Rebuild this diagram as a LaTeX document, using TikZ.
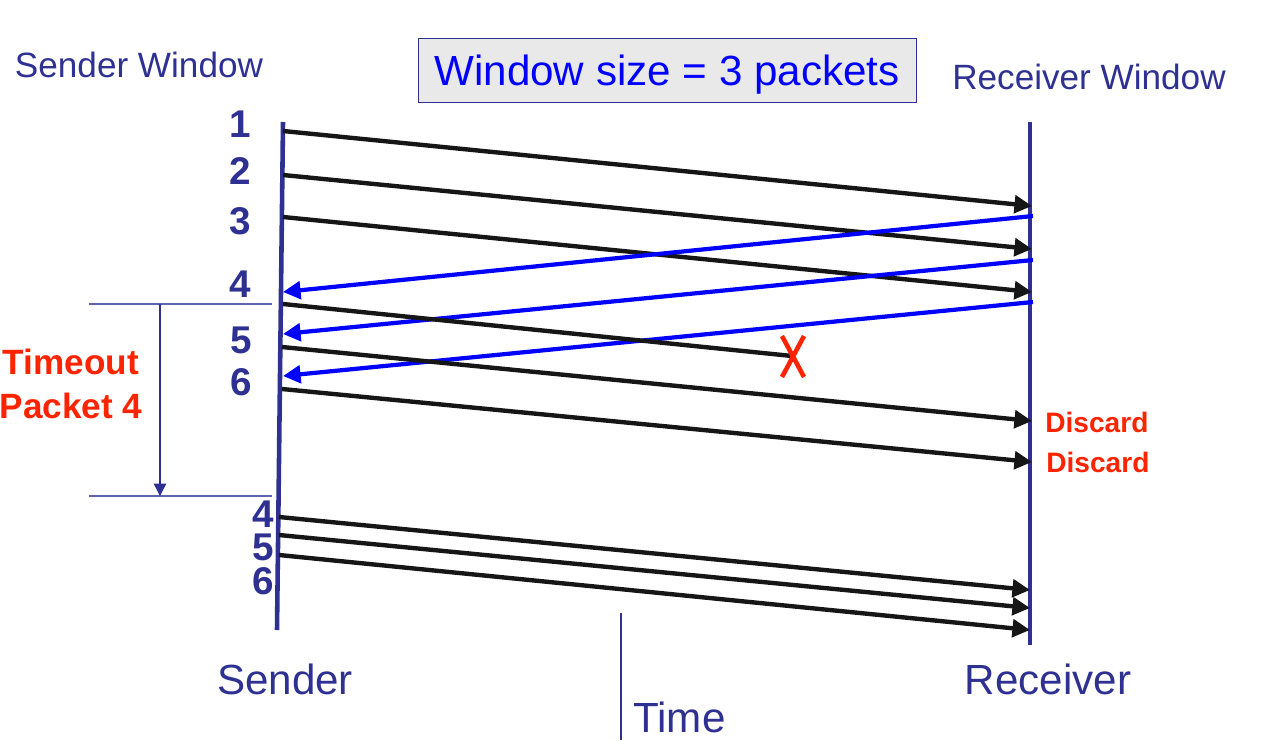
\documentclass[tikz,border=0pt]{standalone}
\usepackage{fontspec}
\setmainfont{Liberation Sans}
\usepackage{xcolor}
\usepackage{tikz}
\usetikzlibrary{positioning,arrows.meta,calc}
\definecolor{linenavy}{RGB}{46,49,146}
\definecolor{ackblue}{RGB}{0,0,255}
\definecolor{alertred}{RGB}{255,36,0}
\definecolor{pktblack}{RGB}{22,22,22}
\definecolor{boxgray}{RGB}{233,233,233}
\definecolor{tickblue}{RGB}{96,100,178}
\tikzset{
  lifeline/.style = {draw=linenavy, line width=2.6pt},
  pkt/.style      = {-{Triangle[length=10pt,width=10pt]}, line width=2.5pt, draw=pktblack},
  lost/.style     = {line width=2.5pt, draw=pktblack},
  ack/.style      = {-{Triangle[length=10pt,width=10pt]}, line width=2.4pt, draw=ackblue},
  seqnum/.style   = {inner sep=0pt, text=linenavy, font=\bfseries\fontsize{22}{22}\selectfont},
  wintitle/.style = {inner sep=0pt, text=linenavy, font=\fontsize{20}{24}\selectfont},
  endlabel/.style = {inner sep=0pt, text=linenavy, font=\fontsize{24}{28}\selectfont},
  alert/.style    = {inner sep=0pt, text=alertred, align=center, font=\bfseries\fontsize{20}{25}\selectfont},
  drop/.style     = {inner sep=0pt, text=alertred, font=\bfseries\fontsize{16}{18}\selectfont},
}

\begin{document}
\begin{tikzpicture}[x=0.02cm, y=-0.02cm]
  \useasboundingbox (0,0) rectangle (1284,740);

  % titles
  \node[wintitle] (sw) at (139,65) {Sender Window};
  \node[wintitle] (rw) at (1089,77) {Receiver Window};
  \node[draw=linenavy, fill=boxgray, text=ackblue, inner sep=0pt,
        minimum width=9.96cm, minimum height=1.28cm, text depth=0pt,
        font=\fontsize{24}{28}\selectfont] (ws) at (667,70) {Window size = 3 packets};

  % lifelines
  \coordinate (stop) at (283,122);
  \coordinate (sbot) at (277,630);
  \coordinate (rtop) at (1030,122);
  \coordinate (rbot) at (1030,645);
  \draw[lifeline] (stop) -- (sbot);
  \draw[lifeline] (rtop) -- (rbot);

  % sequence numbers
  \node[seqnum] (n1) at (240,124) {1};
  \node[seqnum] (n2) at (240,171) {2};
  \node[seqnum] (n3) at (240,221) {3};
  \node[seqnum] (n4) at (240,284) {4};
  \node[seqnum] (n5) at (241,340) {5};
  \node[seqnum] (n6) at (241,382) {6};
  \node[seqnum, text height=13pt] (r4) at (263,516) {4};
  \node[seqnum, text height=13pt] (r5) at (263,549) {5};
  \node[seqnum, text height=13pt] (r6) at (263,583) {6};

  % packet end points
  \coordinate (p1s) at (283,131); \coordinate (p1r) at (1032,206);
  \coordinate (p2s) at (283,175); \coordinate (p2r) at (1032,249);
  \coordinate (p3s) at (283,217); \coordinate (p3r) at (1032,292);
  \coordinate (p4s) at (283,304); \coordinate (p4x) at (792,356);
  \coordinate (p5s) at (282,347); \coordinate (p5r) at (1032,421);
  \coordinate (p6s) at (282,389); \coordinate (p6r) at (1032,462);
  \coordinate (q4s) at (279,517); \coordinate (q4r) at (1030,590);
  \coordinate (q5s) at (279,535); \coordinate (q5r) at (1030,608);
  \coordinate (q6s) at (279,555); \coordinate (q6r) at (1030,630);

  % acks
  \coordinate (a1r) at (1033,216); \coordinate (a1s) at (283,292);
  \coordinate (a2r) at (1033,260); \coordinate (a2s) at (283,334);
  \coordinate (a3r) at (1033,302); \coordinate (a3s) at (283,376);

  \draw[pkt] (p1s) -- (p1r);
  \draw[pkt] (p2s) -- (p2r);
  \draw[pkt] (p3s) -- (p3r);
  \draw[ack] (a1r) -- (a1s);
  \draw[ack] (a2r) -- (a2s);
  \draw[ack] (a3r) -- (a3s);
  \draw[lost] (p4s) -- (p4x);
  \draw[pkt] (p5s) -- (p5r);
  \draw[pkt] (p6s) -- (p6r);
  \draw[pkt] (q4s) -- (q4r);
  \draw[pkt] (q5s) -- (q5r);
  \draw[pkt] (q6s) -- (q6r);

  % lost packet mark
  \draw[alertred, line width=2.6pt] ($(p4x)+(-10,-20)$) -- ($(p4x)+(12,21)$);
  \draw[alertred, line width=2.6pt] ($(p4x)+(12,-20)$) -- ($(p4x)+(-10,21)$);

  % timeout
  \coordinate (t1a) at (89,304);  \coordinate (t1b) at (272,304);
  \coordinate (t2a) at (89,496);  \coordinate (t2b) at (272,496);
  \draw[tickblue, line width=0.7pt] (t1a) -- (t1b);
  \draw[tickblue, line width=0.7pt] (t2a) -- (t2b);
  \coordinate (tt) at (160,304); \coordinate (tb) at (160,496);
  \draw[linenavy, line width=0.8pt, -{Triangle[length=7pt,width=7pt]}] (tt) -- (tb);
  \node[alert] (to) at (71,384) {Timeout\\Packet 4};

  % discards
  \node[drop, anchor=west] (d5) at (1045,422) {Discard};
  \node[drop, anchor=west] (d6) at (1046,462) {Discard};

  % bottom labels
  \node[endlabel] (snd) at (285,679) {Sender};
  \node[endlabel] (rcv) at (1048,679) {Receiver};
  \coordinate (tl1) at (621,613);
  \coordinate (tl2) at (621,740);
  \draw[linenavy, line width=0.8pt] (tl1) -- (tl2);
  \node[endlabel, anchor=west] (tm) at (633,717) {Time};
\end{tikzpicture}
\end{document}
